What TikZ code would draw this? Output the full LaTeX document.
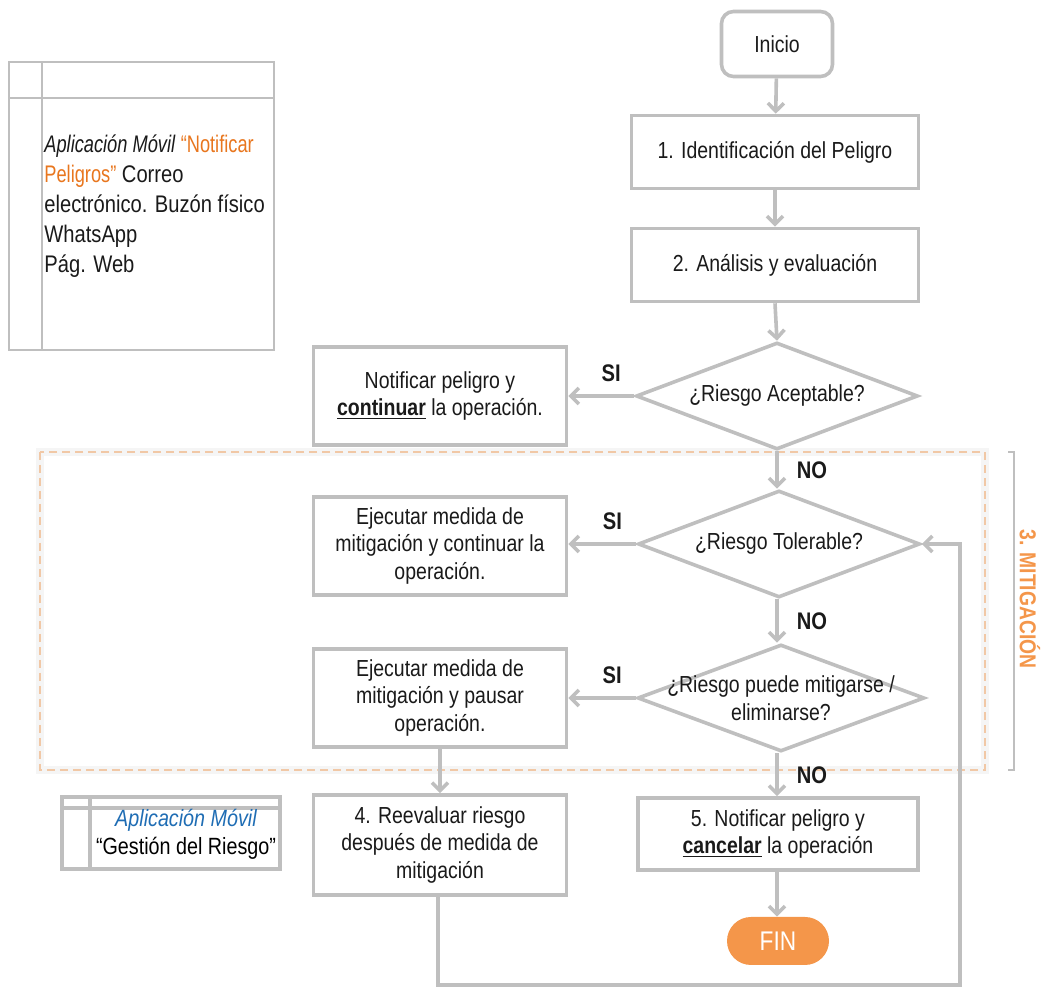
\documentclass[tikz,border=0pt]{standalone}
\usepackage{fontspec}
\setmainfont{Liberation Sans}[FakeStretch=0.84]
\usetikzlibrary{positioning, arrows.meta, shapes.geometric}
\definecolor{color_line}{HTML}{BFBFBF}
\definecolor{color_text}{HTML}{1A1A1A}
\definecolor{color_accent}{HTML}{E8761E}
\definecolor{color_fin}{HTML}{F4964A}
\definecolor{color_blue}{HTML}{1F6DB4}
\definecolor{color_dash}{HTML}{F1C8A6}
\newcommand{\narrowtext}[1]{{\addfontfeature{FakeStretch=0.76}#1}}
\tikzset{
  process_box/.style={draw=color_line, line width=1.8pt, fill=white, align=center, text=color_text, font=\fontsize{11.6}{13.75}\selectfont, inner sep=2pt},
  start_box/.style={process_box, rounded corners=6pt, minimum width=55.5pt, minimum height=32.5pt},
  end_box/.style={fill=color_fin, rounded corners=12pt, text=white, font=\fontsize{13.5}{15}\selectfont, minimum width=51pt, minimum height=24pt},
  decision_box/.style={diamond, aspect=2.6, draw=color_line, line width=1.8pt, fill=white, inner sep=0pt, minimum width=141pt, minimum height=53.5pt},
  decision_text/.style={align=center, text=color_text, font=\fontsize{11.6}{13.75}\selectfont, inner sep=0pt},
  flow_arrow/.style={-{Straight Barb[length=4pt, width=8pt]}, draw=color_line, line width=1.8pt},
  flow_line/.style={draw=color_line, line width=1.8pt},
  flow_label/.style={font=\fontsize{12}{14}\selectfont\bfseries, text=color_text, inner sep=1pt},
  table_line/.style={draw=color_line, line width=0.8pt},
}
\begin{document}
\begin{tikzpicture}[x=0.5pt, y=-0.5pt]
  \useasboundingbox (0,0) rectangle (1041,988);

  % canales de reporte
  \draw[table_line] (9,62) rectangle (274,350);
  \draw[table_line] (42,62) -- (42,350);
  \draw[table_line] (9,98) -- (274,98);
  \node[anchor=north west, inner sep=0pt, align=left, text=color_text, font=\fontsize{12}{15}\selectfont] (canales) at (44,134)
    {\narrowtext{\itshape Aplicación Móvil} \narrowtext{\textcolor{color_accent}{“Notificar}}\\
     \narrowtext{\textcolor{color_accent}{Peligros”}} Correo\\
     electrónico. Buzón físico\\
     WhatsApp\\
     Pág. Web};

  % zona de mitigacion
  \draw[draw=black!4, line width=4pt] (40,452) rectangle (985,770);
  \draw[draw=color_dash, line width=0.6pt, dash pattern=on 4pt off 2.5pt] (40,452) rectangle (985,770);
  \draw[draw=color_line, line width=0.6pt] (1008,452) -- (1014,452) -- (1014,770) -- (1008,770);
  \node[rotate=-90, font=\fontsize{11.5}{13}\selectfont\bfseries, text=color_fin] (mitigacion) at (1030,599) {3. MITIGACIÓN};

  % flujo principal
  \node[start_box] (inicio) at (777,44) {Inicio};
  \node[process_box, minimum width=143.5pt, minimum height=36.5pt] (ident) at (775,152) {1. Identificación del Peligro};
  \node[process_box, minimum width=143.5pt, minimum height=36.5pt] (analisis) at (775,265) {2. Análisis y evaluación};
  \node[decision_box, label={[decision_text]center:¿Riesgo Aceptable?}] (aceptable) at (777,396) {};
  \node[process_box, minimum width=126.5pt, minimum height=49pt] (continuar) at (440,396)
    {Notificar peligro y\\ \underline{\textbf{continuar}} la operación.};
  \node[decision_box, label={[decision_text]center:¿Riesgo Tolerable?}] (tolerable) at (779,544) {};
  \node[process_box, minimum width=126.5pt, minimum height=49pt] (medida) at (440,546)
    {Ejecutar medida de\\ mitigación y continuar la\\ operación.};
  \node[decision_box, minimum width=143.5pt, label={[decision_text]center:¿Riesgo puede mitigarse /\\ eliminarse?}] (mitigable) at (781,698) {};
  \node[process_box, minimum width=126.5pt, minimum height=49pt] (pausar) at (440,698)
    {Ejecutar medida de\\ mitigación y pausar\\ operación.};
  \node[process_box, minimum width=126.5pt, minimum height=50pt] (reevaluar) at (440,845)
    {4. Reevaluar riesgo\\ después de medida de\\ mitigación};
  \node[process_box, minimum width=140pt, minimum height=36pt] (cancelar) at (778,834)
    {5. Notificar peligro y\\ \underline{\textbf{cancelar}} la operación};
  \node[end_box] (fin) at (778,941) {FIN};

  % aplicacion gestion
  \draw[flow_line] (62,797) rectangle (280,869);
  \draw[flow_line] (90,797) -- (90,869);
  \draw[flow_line] (62,808) -- (280,808);
  \node[align=center, inner sep=0pt, font=\fontsize{11.75}{14}\selectfont] (gestion) at (186,834)
    {\textcolor{color_blue}{\itshape Aplicación Móvil}\\ “Gestión del Riesgo”};

  \draw[flow_arrow] (inicio) -- (ident);
  \draw[flow_arrow] (ident) -- (analisis);
  \draw[flow_arrow] (analisis.south) -- (aceptable.north);
  \draw[flow_arrow] (aceptable.west) -- (continuar.east) node[flow_label, pos=0.35, above=5pt] {SI};
  \draw[flow_arrow] (aceptable.south) -- (tolerable.north -| aceptable.south) node[flow_label, midway, right=8pt] {NO};
  \draw[flow_arrow] (tolerable.west) -- (medida.east |- tolerable.west) node[flow_label, pos=0.35, above=5pt] {SI};
  \draw[flow_arrow] (tolerable.south -| aceptable.south) -- (mitigable.north -| aceptable.south) node[flow_label, midway, right=8pt] {NO};
  \draw[flow_arrow] (mitigable.west) -- (pausar.east |- mitigable.west) node[flow_label, pos=0.35, above=5pt] {SI};
  \draw[flow_arrow] (mitigable.south -| aceptable.south) -- (cancelar.north -| aceptable.south) node[flow_label, midway, right=8pt] {NO};
  \draw[flow_arrow] (pausar) -- (reevaluar);
  \draw[flow_arrow] (cancelar.south -| aceptable.south) -- (fin.north -| aceptable.south);

  % retorno a evaluacion
  \coordinate (loop_a) at (438,985);
  \coordinate (loop_b) at (960,985);
  \draw[flow_arrow] (reevaluar.south -| loop_a) -- (loop_a) -- (loop_b) |- (tolerable.east);
\end{tikzpicture}
\end{document}
